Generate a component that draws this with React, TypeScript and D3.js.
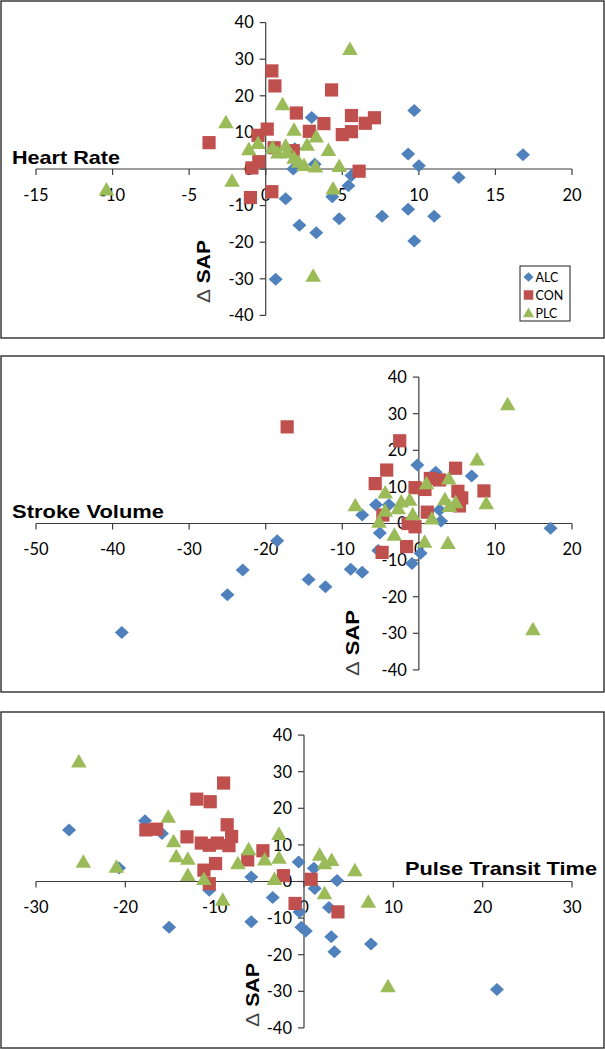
import React from 'react';
import * as d3 from 'd3';

type Pt = [number, number];

const yTicks = [-40, -30, -20, -10, 0, 10, 20, 30, 40];
const xTicksHR = [-15, -10, -5, 0, 5, 10, 15, 20];
const xTicksSV = [-50, -40, -30, -20, -10, 0, 10, 20];
const xTicksPTT = [-30, -20, -10, 0, 10, 20, 30];
const seriesNames = ['ALC', 'CON', 'PLC'];

const ALC_HR: Pt[] = [[16.8,3.9],[9.7,16],[9.3,4.1],[10,0.9],[3.0,14.1],[3.2,1.3],[1.9,5.5],[1.8,0],[12.6,-2.3],[5.6,-1.8],[5.4,-4.6],[4.35,-7.6],[1.3,-8.1],[9.3,-11],[7.6,-12.9],[11,-12.9],[4.8,-13.6],[2.2,-15.4],[3.3,-17.4],[9.7,-19.7],[0.65,-30.1]];
const CON_HR: Pt[] = [[0.4,26.8],[0.6,22.7],[4.3,21.6],[2.0,15.3],[5.6,14.6],[7.1,14],[6.5,12.5],[3.8,12.4],[2.85,10.3],[5.6,10.2],[5.0,9.4],[0.1,10.9],[-0.5,9.2],[-3.7,7.2],[0.55,5.8],[1.8,5],[-0.45,2],[6.1,-0.6],[-0.9,0.3],[0.4,-6.2],[-1,-7.8]];
const PLC_HR: Pt[] = [[5.5,32.8],[1.1,17.7],[-2.6,12.8],[1.85,10.7],[3.3,8.9],[2.7,6.6],[4.1,5.2],[-0.5,7.1],[-1.1,5.4],[0.45,5.9],[1.3,6.4],[0.8,4.5],[1.4,4.6],[1.85,3.1],[2.15,2],[2.5,1.1],[3.25,0.7],[4.8,0.8],[-10.4,-5.6],[-2.2,-3.2],[4.4,-5.3],[3.1,-29.2]];

const ALC_SV: Pt[] = [[-0.2,16],[2.2,14],[6.9,13],[-5.6,5.1],[-3.9,5.1],[-7.4,2.3],[2.7,3.7],[2.9,0.7],[17.2,-1.3],[-18.5,-4.7],[-23,-12.7],[-25,-19.5],[-38.8,-29.8],[-14.4,-15.3],[-12.2,-17.3],[-8.9,-12.5],[-7.4,-13.3],[-0.9,-10.9],[0.24,-8.1],[-5.1,-2.6],[-5.3,-7.4]];
const CON_SV: Pt[] = [[-17.2,26.4],[-2.5,22.6],[-4.2,14.6],[-5.7,10.9],[4.8,15.1],[1.5,12.3],[2.7,11.9],[-0.5,9.8],[0.8,9.3],[5.1,8.8],[8.5,8.9],[5.6,7],[5.3,4.8],[1.1,3.1],[-4.7,2.3],[-1.4,0],[-0.5,-0.9],[-4.8,-7.9],[-1.6,-6.3]];
const PLC_SV: Pt[] = [[11.6,32.6],[7.6,17.5],[1,11],[3.9,12.3],[-4.4,8.5],[-8.3,5],[-2.3,6],[-1.2,6.5],[3.4,6.6],[4.8,5.8],[4,4.8],[8.8,5.5],[-4.4,3.5],[-2.7,4.2],[-0.8,2.5],[1.7,1.4],[-5.2,0.5],[-3.2,-3.1],[0.75,-5],[3.8,-5.3],[14.9,-28.9]];

const ALC_PTT: Pt[] = [[-26.3,14.1],[-17.8,16.6],[-15.9,13.1],[-20.7,3.7],[-0.6,5.3],[1.1,3.6],[-5.9,1.2],[3.7,0.3],[-10.6,-2.4],[-3.5,-4.4],[-0.5,-8.3],[-5.9,-11],[-15.1,-12.5],[-0.3,-12.5],[0.2,-13.5],[1.2,-1.9],[2.8,-7.1],[3.05,-15.1],[3.4,-19.2],[7.5,-17.1],[21.6,-29.5]];
const CON_PTT: Pt[] = [[-17.7,14.1],[-16.5,14.3],[-13.1,12.2],[-12,22.5],[-10.5,21.8],[-9,26.9],[-8.6,15.5],[-11.5,10.5],[-10.6,9.9],[-9.7,10.5],[-8.1,12.3],[-8.4,9.8],[-4.6,8.4],[-6.3,5.9],[-9.9,4.9],[-11.2,3.1],[-10.6,-0.6],[-2.3,1.6],[0.8,0.6],[-1,-6],[3.8,-8.3]];
const PLC_PTT: Pt[] = [[-25.2,32.8],[-15.2,17.7],[-14.6,11],[-24.7,5.4],[-21,4],[-14.3,6.9],[-13,6.2],[-6.2,8.8],[-7.4,5],[-4.4,6],[-2.8,13],[-2.8,6.5],[1.75,7.3],[3.1,5.9],[2.3,5],[5.7,3.1],[-13,1.8],[-11.2,0.7],[-9.1,-5],[-3.3,0.7],[2.3,-3.2],[7.2,-5.5],[9.4,-28.6]];

const COLORS: Record<string, string> = { ALC: '#4F81BD', CON: '#C0504D', PLC: '#9BBB59' };

function markerPath(type: string, cx: number, cy: number, k = 1): string {
  if (type === 'ALC') {
    const rx = 7 * k, ry = 6.5 * k;
    return `M${cx},${cy - ry}L${cx + rx},${cy}L${cx},${cy + ry}L${cx - rx},${cy}Z`;
  }
  if (type === 'CON') {
    const h = 6.6 * k;
    return `M${cx - h},${cy - h}H${cx + h}V${cy + h}H${cx - h}Z`;
  }
  return `M${cx},${cy - 7.5 * k}L${cx + 7.8 * k},${cy + 6 * k}L${cx - 7.8 * k},${cy + 6 * k}Z`;
}

interface PanelCfg {
  top: number;
  bottom: number;
  y0: number;
  xDomain: [number, number];
  xTicks: number[];
  series: Pt[][];
  title: string;
  titleX: number;
  titleY: number;
  titleLen: number;
  sapX: number;
  sapY: number;
  sapLen: number;
  legend?: boolean;
}

const FONT = 'Lato, "Open Sans", sans-serif';
const BOLD = '"Liberation Sans", Arial, sans-serif';

function Panel({ cfg }: { cfg: PanelCfg }) {
  const x = d3.scaleLinear().domain(cfg.xDomain).range([36, 572]);
  const half = 146.4;
  const y = d3.scaleLinear().domain([-40, 40]).range([cfg.y0 + half, cfg.y0 - half]);
  const ax = x(0);
  const ay = y(0);
  const axisColor = '#3c3c3c';
  return (
    <g>
      <rect x={1} y={cfg.top} width={603} height={cfg.bottom - cfg.top} fill="#fff" stroke="#1e1e1e" strokeWidth={1.3} />
      <line x1={x(cfg.xDomain[0])} x2={x(cfg.xDomain[1])} y1={ay} y2={ay} stroke={axisColor} strokeWidth={1.2} />
      {cfg.xTicks.map((t) => (
        <g key={'xt' + t}>
          <line x1={x(t)} x2={x(t)} y1={ay} y2={ay + 6} stroke={axisColor} strokeWidth={1.2} />
          <text x={x(t)} y={ay + 31.5} textAnchor="middle" fontFamily={FONT} fontSize={16.5} fill="#000">{t}</text>
        </g>
      ))}
      <line x1={ax} x2={ax} y1={y(40)} y2={y(-40)} stroke={axisColor} strokeWidth={1.2} />
      {yTicks.map((t) => (
        <g key={'yt' + t}>
          <line x1={ax - 6} x2={ax} y1={y(t)} y2={y(t)} stroke={axisColor} strokeWidth={1.2} />
          <text x={ax - 12} y={y(t) + 5.8} textAnchor="end" fontFamily={FONT} fontSize={16.5} fill="#000">{t}</text>
        </g>
      ))}
      {cfg.series.map((pts, si) => (
        <g key={'s' + si}>
          {pts.map((p, i) => (
            <path key={i} d={markerPath(seriesNames[si], x(p[0]), y(p[1]))} fill={COLORS[seriesNames[si]]} />
          ))}
        </g>
      ))}
      <text x={cfg.titleX} y={cfg.titleY} fontFamily={BOLD} fontWeight="bold" fontSize={18.5} textLength={cfg.titleLen} lengthAdjust="spacingAndGlyphs" fill="#000">{cfg.title}</text>
      <text transform={`translate(${cfg.sapX},${cfg.sapY}) rotate(-90)`} fontFamily={BOLD} fontSize={19} textLength={cfg.sapLen} lengthAdjust="spacingAndGlyphs" fill="#000">
        <tspan fontWeight="normal" fill="#444">Δ</tspan>
        <tspan fontWeight="bold"> SAP</tspan>
      </text>
      {cfg.legend && (
        <g>
          <rect x={520} y={266} width={50} height={55} fill="#fff" stroke="#1e1e1e" strokeWidth={1} />
          {seriesNames.map((n, i) => (
            <g key={n}>
              <path d={markerPath(n, 528.5, 277 + i * 18, 0.72)} fill={COLORS[n]} />
              <text x={535.5} y={281.5 + i * 18} fontFamily={FONT} fontSize={12.5} fill="#000">{n}</text>
            </g>
          ))}
        </g>
      )}
    </g>
  );
}

const panels: PanelCfg[] = [
  { top: 1, bottom: 338, y0: 169, xDomain: [-15, 20], xTicks: xTicksHR, series: [ALC_HR, CON_HR, PLC_HR], title: 'Heart Rate', titleX: 12, titleY: 164, titleLen: 108, sapX: 210, sapY: 303, sapLen: 63, legend: true },
  { top: 356, bottom: 692, y0: 523.5, xDomain: [-50, 20], xTicks: xTicksSV, series: [ALC_SV, CON_SV, PLC_SV], title: 'Stroke Volume', titleX: 12, titleY: 518, titleLen: 152, sapX: 359, sapY: 676, sapLen: 66 },
  { top: 712, bottom: 1048, y0: 881.5, xDomain: [-30, 30], xTicks: xTicksPTT, series: [ALC_PTT, CON_PTT, PLC_PTT], title: 'Pulse Transit Time', titleX: 405, titleY: 875, titleLen: 192, sapX: 259, sapY: 1027, sapLen: 64 },
];

export default function App() {
  return (
    <svg width={605} height={1050} viewBox="0 0 605 1050" style={{ position: 'absolute', left: 0, top: 0, background: '#fff' }}>
      <rect x={0} y={0} width={605} height={1050} fill="#fff" />
      {panels.map((p, i) => (
        <Panel key={i} cfg={p} />
      ))}
    </svg>
  );
}
